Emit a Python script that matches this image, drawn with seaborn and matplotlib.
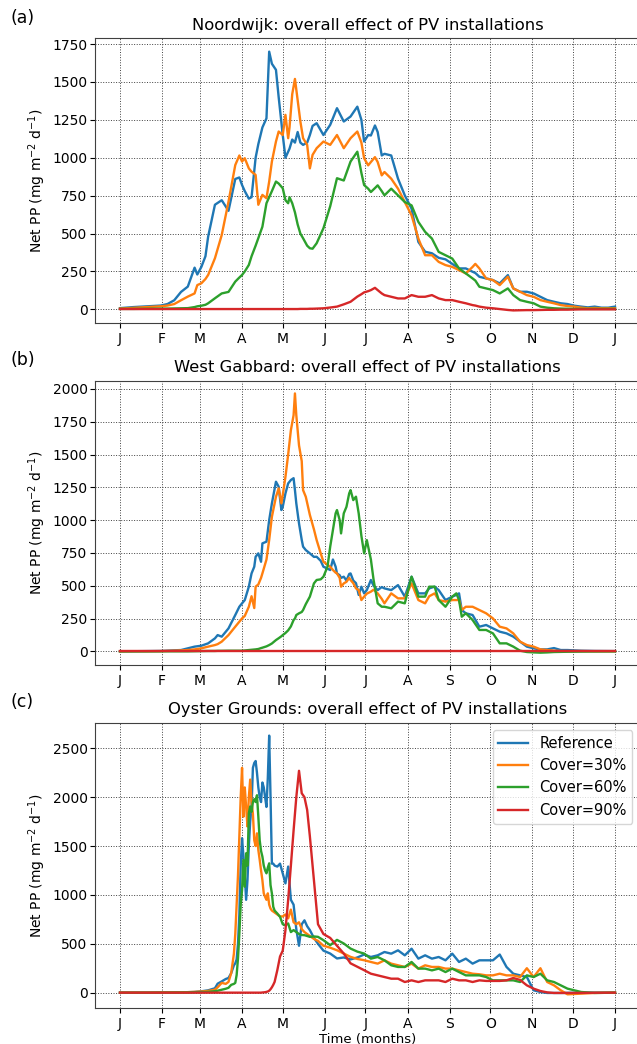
import numpy as np
import pandas as pd
import matplotlib
matplotlib.use("Agg")
import matplotlib.pyplot as plt
import seaborn as sns

# ---------------- data ----------------
scenarios = ["Reference", "Cover=30%", "Cover=60%", "Cover=90%"]
colors = ["#1f77b4", "#ff7f0e", "#2ca02c", "#d62728"]
month_ticks = [0, 31, 59, 90, 120, 151, 181, 212, 243, 273, 304, 334, 365]
month_labels = ["J", "F", "M", "A", "M", "J", "J", "A", "S", "O", "N", "D", "J"]

# Panel (a) Noordwijk
days_a = [0, 10, 20, 30, 35, 40, 45, 50, 55, 57,
          60, 63, 65, 70, 75, 80, 85, 88, 90, 92,
          95, 97, 100, 102, 105, 108, 110, 112, 115, 117,
          120, 122, 124, 125, 127, 129, 131, 133, 135, 138,
          140, 142, 145, 150, 155, 160, 165, 170, 175, 178,
          180, 183, 185, 188, 190, 193, 195, 200, 205, 210,
          215, 220, 225, 230, 235, 240, 245, 250, 255, 260,
          262, 265, 270, 275, 280, 286, 290, 295, 300, 305,
          310, 315, 320, 325, 330, 335, 340, 345, 350, 355,
          360, 365]
ref_a = [8, 15, 20, 25, 35, 60, 115, 150, 275, 230,
         280, 350, 480, 690, 720, 650, 860, 870, 820, 780,
         730, 740, 1000, 1090, 1200, 1260, 1700, 1620, 1580, 1400,
         1150, 1000, 1040, 1060, 1120, 1100, 1170, 1100, 1085, 1100,
         1150, 1210, 1228, 1150, 1217, 1327, 1239, 1272, 1337, 1250,
         1107, 1150, 1147, 1213, 1170, 1015, 1026, 1015, 862, 752,
         664, 445, 380, 370, 340, 330, 300, 270, 270, 248,
         240, 215, 204, 193, 171, 226, 138, 116, 116, 105,
         83, 61, 50, 40, 35, 24, 18, 13, 18, 11,
         11, 18]
c30_a = [5, 10, 15, 20, 25, 35, 60, 84, 105, 160,
         172, 200, 227, 337, 490, 710, 952, 1015, 975, 997,
         930, 908, 887, 690, 755, 733, 843, 975, 1107, 1173,
         1150, 1283, 1129, 1200, 1420, 1520, 1380, 1239, 1129, 1085,
         930, 1019, 1063, 1107, 1085, 1150, 1063, 1129, 1173, 1100,
         997, 950, 972, 1004, 972, 884, 906, 862, 796, 708,
         620, 467, 357, 357, 313, 292, 280, 259, 237, 280,
         300, 270, 204, 193, 160, 215, 138, 116, 94, 83,
         61, 50, 40, 28, 22, 18, 11, 7, 9, 7,
         7, 7]
c60_a = [3, 3, 4, 5, 5, 6, 7, 8, 15, 20,
         24, 30, 40, 73, 105, 115, 183, 210, 227, 250,
         293, 350, 420, 470, 545, 700, 740, 780, 843, 830,
         799, 720, 700, 740, 700, 640, 560, 500, 469, 420,
         403, 400, 436, 535, 680, 865, 850, 975, 1040, 900,
         820, 796, 774, 800, 818, 780, 752, 796, 752, 708,
         686, 577, 511, 467, 379, 357, 335, 270, 237, 204,
         190, 149, 138, 127, 105, 138, 94, 61, 50, 40,
         18, 11, 7, 5, 4, 3, 3, 3, 3, 3,
         3, 3]
c90_a = [2, 2, 2, 2, 2, 2, 2, 2, 2, 2,
         2, 2, 2, 2, 2, 2, 2, 2, 2, 2,
         2, 2, 2, 2, 2, 2, 2, 2, 2, 2,
         2, 2, 2, 2, 2, 2, 2, 3, 3, 3,
         4, 4, 5, 7, 12, 18, 33, 50, 84, 100,
         112, 120, 127, 142, 127, 105, 94, 83, 72, 72,
         94, 83, 83, 94, 72, 61, 61, 50, 40, 28,
         25, 18, 11, 7, 2, -4, -7, -6, -5, -5,
         -4, -3, -3, -2, -2, -1, 0, 0, 0, 0,
         0, 0]

# Panel (b) West Gabbard
days_b = [0, 10, 20, 30, 40, 45, 50, 55, 60, 65,
          70, 72, 75, 80, 85, 88, 90, 92, 95, 97,
          99, 100, 102, 104, 105, 108, 110, 112, 115, 117,
          119, 120, 122, 124, 126, 128, 129, 130, 132, 134,
          135, 137, 140, 143, 145, 148, 150, 153, 155, 157,
          159, 160, 162, 163, 165, 167, 169, 170, 172, 174,
          176, 178, 180, 182, 185, 187, 190, 193, 195, 200,
          205, 210, 215, 220, 225, 228, 232, 235, 240, 245,
          248, 250, 252, 255, 260, 265, 270, 275, 280, 285,
          290, 295, 300, 305, 310, 315, 320, 325, 330, 340,
          350, 365]
ref_b = [0, 1, 2, 3, 8, 10, 23, 36, 43, 61,
         99, 124, 112, 175, 277, 340, 366, 391, 493, 594,
         645, 721, 747, 683, 823, 836, 1000, 1128, 1293, 1255,
         1077, 1102, 1204, 1280, 1306, 1320, 1229, 1128, 975, 850,
         798, 772, 747, 720, 721, 690, 645, 630, 620, 700,
         645, 594, 580, 560, 569, 540, 590, 594, 540, 520,
         430, 493, 442, 467, 544, 500, 467, 490, 480, 467,
         505, 417, 569, 442, 442, 480, 493, 467, 391, 417,
         430, 442, 315, 290, 277, 188, 201, 175, 150, 137,
         112, 74, 36, 23, 15, 15, 25, 10, 10, 5,
         3, 2]
c30_b = [0, 1, 1, 2, 5, 7, 10, 15, 23, 36,
         48, 55, 74, 124, 188, 226, 251, 270, 340, 420,
         330, 493, 510, 560, 594, 700, 849, 1026, 1178, 1242,
         1128, 1191, 1330, 1500, 1686, 1800, 1966, 1800, 1570, 1450,
         1229, 1178, 1040, 930, 848, 747, 683, 660, 645, 620,
         600, 594, 560, 493, 518, 530, 560, 544, 520, 480,
         467, 391, 417, 440, 455, 470, 442, 400, 366, 442,
         404, 404, 518, 391, 366, 420, 442, 391, 379, 391,
         391, 391, 315, 340, 340, 315, 290, 251, 188, 175,
         137, 74, 48, 36, 15, 10, 5, 2, 2, 2,
         1, 1]
c60_b = [0, 0, 0, 0, 0, 0, 0, 1, 2, 3,
         3, 4, 4, 5, 5, 5, 5, 7, 10, 12,
         14, 15, 18, 25, 28, 38, 48, 60, 86, 100,
         115, 124, 140, 160, 190, 239, 250, 277, 290, 300,
         315, 360, 417, 518, 544, 549, 569, 645, 798, 925,
         1052, 1077, 1000, 899, 1052, 1102, 1204, 1229, 1153, 1179,
         1052, 880, 747, 848, 700, 544, 366, 340, 340, 328,
         379, 366, 569, 417, 417, 493, 493, 391, 340, 417,
         442, 391, 264, 290, 239, 163, 163, 137, 61, 61,
         36, 5, -5, -8, -10, -8, -5, -4, -3, -2,
         -1, 0]
c90_b = [0, 0, 0, 0, 0, 0, 0, 0, 0, 0,
         0, 0, 0, 0, 0, 0, 0, 0, 0, 0,
         0, 0, 0, 0, 0, 0, 0, 0, 0, 0,
         0, 0, 0, 0, 0, 0, 0, 0, 0, 0,
         0, 0, 0, 0, 0, 0, 0, 0, 0, 0,
         0, 0, 0, 0, 0, 0, 0, 0, 0, 0,
         0, 0, 0, 0, 0, 0, 0, 0, 0, 0,
         0, 0, 0, 0, 0, 0, 0, 0, 0, 0,
         0, 0, 0, 0, 0, 0, 0, 0, 0, 0,
         0, 0, 0, 0, 0, 0, 0, 0, 0, 0,
         0, 0]

# Panel (c) Oyster Grounds
days_c = [0, 10, 20, 30, 40, 50, 55, 60, 65, 70,
          72, 75, 78, 80, 82, 84, 85, 86, 87, 88,
          89, 90, 91, 92, 93, 94, 95, 96, 97, 98,
          99, 100, 101, 102, 103, 104, 105, 106, 107, 108,
          109, 110, 111, 112, 113, 114, 116, 118, 120, 122,
          124, 126, 128, 130, 132, 134, 136, 138, 140, 143,
          146, 150, 155, 160, 165, 170, 175, 180, 185, 190,
          195, 200, 205, 210, 215, 220, 225, 230, 235, 240,
          245, 250, 255, 260, 265, 270, 275, 280, 285, 290,
          295, 300, 305, 310, 315, 320, 325, 330, 340, 350,
          365]
ref_c = [0, 0, 0, 2, 3, 5, 7, 14, 24, 45,
         92, 115, 140, 150, 200, 280, 300, 340, 500, 800,
         1300, 1580, 1400, 1200, 950, 1150, 1500, 1750, 1900, 2300,
         2350, 2370, 2250, 2100, 2000, 1950, 2150, 2100, 2000, 1900,
         2200, 2630, 2000, 1320, 1320, 1300, 1290, 1320, 1220, 1118,
         1290, 950, 900, 650, 480, 700, 740, 680, 640, 560,
         500, 430, 400, 350, 360, 340, 360, 390, 365, 382,
         416, 399, 433, 382, 450, 348, 382, 348, 365, 331,
         399, 314, 348, 297, 331, 331, 331, 390, 263, 194,
         177, 160, 24, 7, -3, -3, -3, -2, -1, 0,
         0]
c30_c = [0, 0, 0, 2, 3, 5, 8, 12, 18, 30,
         55, 100, 90, 110, 200, 400, 600, 900, 1200, 1600,
         2000, 2300, 1800, 2100, 1900, 1700, 2000, 2180, 1950, 1830,
         1560, 1500, 1630, 1460, 1360, 1250, 1150, 1016, 980, 950,
         1016, 900, 860, 840, 830, 820, 800, 780, 780, 800,
         760, 850, 720, 700, 720, 650, 620, 600, 580, 550,
         530, 480, 460, 434, 400, 366, 345, 332, 314, 297,
         331, 297, 280, 263, 297, 246, 280, 263, 263, 246,
         246, 228, 211, 194, 188, 177, 177, 194, 177, 177,
         160, 250, 160, 250, 109, 75, 24, -17, -10, -3,
         0]
c60_c = [0, 0, 0, 1, 2, 3, 5, 6, 8, 15,
         20, 30, 40, 50, 80, 90, 100, 180, 350, 600,
         900, 1050, 1358, 1084, 1426, 1300, 1836, 1905, 1850, 1950,
         1980, 1950, 2020, 1800, 1560, 1450, 1392, 1300, 1250, 1221,
         1280, 1323, 1100, 1016, 879, 840, 810, 776, 700, 690,
         708, 620, 640, 620, 600, 590, 588, 580, 571, 575,
         571, 537, 486, 540, 503, 451, 420, 400, 348, 365,
         331, 280, 263, 263, 314, 246, 246, 228, 246, 211,
         246, 211, 177, 177, 177, 160, 126, 126, 126, 126,
         109, 177, 160, 194, 126, 109, 75, 41, 7, -3,
         0]
c90_c = [0, 0, 0, 0, 0, 0, 0, 0, 0, 0,
         0, 0, 0, 0, 0, 0, 0, 0, 0, 0,
         0, 0, 0, 0, 0, 0, 0, 0, 0, 0,
         0, 0, 0, 0, 0, 0, 2, 3, 5, 8,
         12, 20, 35, 55, 80, 110, 230, 370, 430, 640,
         950, 1300, 1660, 2000, 2270, 2040, 2000, 1870, 1600, 1150,
         700, 600, 560, 480, 400, 300, 265, 230, 194, 177,
         160, 143, 143, 109, 126, 109, 126, 126, 126, 109,
         143, 126, 126, 109, 126, 120, 120, 120, 126, 150,
         130, 75, 41, 17, 3, -3, -3, -3, -2, -1,
         0]

# ---------------- figure ----------------
plt.rcParams["font.family"] = ["DejaVu Sans"]
W, H = 637, 1044
fig = plt.figure(figsize=(W / 100, H / 100), dpi=100)

left = 95.25 / W
width = 544.5 / W


def box(top_px, bottom_px):
    return [left, 1 - bottom_px / H, width, (bottom_px - top_px) / H]


panels = [
    dict(days=days_a, series=[ref_a, c30_a, c60_a, c90_a], pos=box(38.3, 323.3),
         title="Noordwijk: overall effect of PV installations",
         yticks=np.arange(0, 1751, 250), ylim=(-92, 1788), tag="(a)", tag_y=18),
    dict(days=days_b, series=[ref_b, c30_b, c60_b, c90_b], pos=box(380.7, 665.0),
         title="West Gabbard: overall effect of PV installations",
         yticks=np.arange(0, 2001, 250), ylim=(-104, 2063), tag="(b)", tag_y=360),
    dict(days=days_c, series=[ref_c, c30_c, c60_c, c90_c], pos=box(722.7, 1008.3),
         title="Oyster Grounds: overall effect of PV installations",
         yticks=np.arange(0, 2501, 500), ylim=(-160, 2762), tag="(c)", tag_y=702),
]

for i, p in enumerate(panels):
    ax = fig.add_axes(p["pos"])
    n = len(p["days"])
    df = pd.DataFrame({
        "day": np.tile(p["days"], 4),
        "pp": np.concatenate([np.asarray(s, dtype=float) for s in p["series"]]),
        "scenario": np.repeat(scenarios, n),
    })
    sns.lineplot(data=df, x="day", y="pp", hue="scenario", hue_order=scenarios,
                 palette=colors, estimator=None, linewidth=1.7, ax=ax, legend=False)
    ax.set_xlim(-18.25, 383.25)
    ax.set_ylim(*p["ylim"])
    ax.set_xticks(month_ticks)
    ax.set_xticklabels(month_labels)
    ax.set_yticks(p["yticks"])
    ax.tick_params(labelsize=10)
    ax.tick_params(axis="y", pad=2)
    ax.tick_params(axis="x", pad=3)
    for sp in ax.spines.values():
        sp.set_color("0.25")
    ax.grid(True, linestyle=":", color="0.25", linewidth=0.7)
    ax.set_title(p["title"], fontsize=11.8, pad=6)
    ax.set_ylabel(r"Net PP (mg m$^{-2}$ d$^{-1}$)", fontsize=10)
    ax.yaxis.set_label_coords(-0.086, 0.5)
    if i == 2:
        ax.set_xlabel("Time (months)", fontsize=9.5, labelpad=1)
        ax.legend(ax.lines[:4], scenarios, loc="upper right", fontsize=10.5,
                  framealpha=0.8)
    else:
        ax.set_xlabel("")
    fig.text(10 / W, 1 - p["tag_y"] / H, p["tag"], fontsize=12.5, va="center", ha="left")

fig.savefig("out.png", dpi=100)
